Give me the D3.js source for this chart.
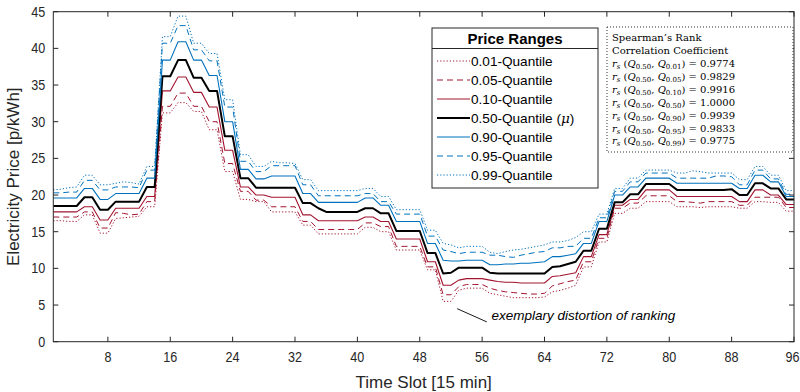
<!DOCTYPE html>
<html>
<head>
<meta charset="utf-8">
<script src="https://cdn.jsdelivr.net/npm/d3@7"></script>
<style>
  body { margin: 0; background: #fff; }
  svg { display: block; }
  .tick-label { font-family: "Liberation Sans", Arial, sans-serif; font-size: 15px; fill: #262626; }
  .axis-title { font-family: "Liberation Sans", Arial, sans-serif; font-size: 17px; fill: #262626; }
  .legend-text { font-family: "Liberation Sans", Arial, sans-serif; font-size: 13.6px; fill: #000; }
  .corr-text { font-family: "DejaVu Serif", "Liberation Serif", serif; font-size: 10px; fill: #000; }
</style>
</head>
<body>
<div id="chart"></div>
<script>
// quantile curves of the day-ahead price, one value per 15 min slot (1..96)
var q01 = [
  16.5, 16.5, 16.4, 16.4, 17.3, 17.3, 14.8, 14.8, 16.8, 16.9,
  17.0, 17.1, 18.4, 18.4, 31.2, 31.2, 32.6, 32.6, 31.4, 31.4,
  28.9, 28.9, 23.2, 23.2, 19.4, 19.4, 19.1, 19.1, 17.7, 17.7,
  17.7, 17.7, 15.9, 15.9, 14.7, 14.7, 14.7, 14.7, 14.7, 14.7,
  15.6, 15.6, 15.0, 15.0, 12.5, 12.5, 12.5, 12.5, 9.8, 9.8,
  5.5, 5.5, 7.0, 7.3, 7.3, 7.3, 6.6, 6.4, 6.2, 6.0,
  6.0, 6.0, 6.0, 6.1, 6.8, 7.0, 7.3, 7.7, 10.2, 10.2,
  13.6, 13.6, 17.5, 17.5, 18.2, 18.2, 19.1, 19.1, 19.1, 19.1,
  18.4, 18.4, 18.4, 18.3, 18.4, 18.4, 18.4, 18.4, 18.2, 18.2,
  19.1, 19.1, 19.0, 19.0, 17.8, 17.8
];
var q05 = [
  17.0, 17.0, 17.0, 17.0, 17.7, 17.7, 15.5, 15.5, 17.6, 17.5,
  17.3, 17.4, 19.1, 19.1, 32.1, 32.1, 33.9, 33.9, 32.1, 32.1,
  30.0, 30.0, 24.3, 24.3, 20.5, 20.5, 19.3, 19.3, 18.4, 18.4,
  18.4, 18.4, 16.4, 16.4, 15.3, 15.3, 15.3, 15.3, 15.3, 15.3,
  16.2, 16.2, 15.7, 15.7, 13.0, 13.0, 13.0, 13.0, 10.2, 10.2,
  6.4, 6.4, 7.5, 7.8, 7.8, 7.8, 7.3, 7.0, 6.8, 6.7,
  6.6, 6.5, 6.5, 6.6, 7.6, 7.9, 8.2, 8.4, 10.9, 10.9,
  14.1, 14.1, 18.2, 18.2, 18.9, 18.9, 19.9, 19.9, 19.9, 19.9,
  19.1, 19.1, 19.0, 18.9, 19.1, 19.1, 19.1, 19.1, 18.6, 18.6,
  19.7, 19.7, 19.7, 19.7, 18.3, 18.3
];
var q10 = [
  17.7, 17.7, 17.7, 17.7, 18.4, 18.4, 16.6, 16.6, 18.2, 18.2,
  18.2, 18.2, 19.8, 19.8, 34.2, 34.2, 36.1, 36.1, 34.0, 34.0,
  32.0, 32.0, 26.1, 26.1, 21.1, 21.1, 20.0, 20.0, 19.7, 19.7,
  19.7, 19.7, 17.3, 17.3, 16.5, 16.5, 16.5, 16.5, 16.5, 16.5,
  17.0, 17.0, 16.4, 16.4, 14.0, 14.0, 14.0, 14.0, 10.9, 10.9,
  7.7, 7.7, 8.4, 8.6, 8.6, 8.6, 8.4, 8.2, 8.1, 8.1,
  8.0, 8.0, 8.0, 8.0, 8.9, 9.0, 9.2, 9.4, 11.6, 11.6,
  14.6, 14.6, 18.6, 18.6, 19.4, 19.4, 20.7, 20.7, 20.7, 20.7,
  19.8, 19.8, 19.8, 19.8, 19.8, 19.8, 19.8, 19.8, 19.1, 19.1,
  20.7, 20.7, 20.0, 20.0, 18.7, 18.7
];
var q50 = [
  18.5, 18.5, 18.5, 18.5, 19.7, 19.7, 18.0, 18.0, 19.1, 19.1,
  19.1, 19.1, 21.1, 21.1, 36.2, 36.2, 38.4, 38.4, 36.0, 36.0,
  34.2, 34.2, 28.0, 28.0, 22.3, 22.3, 21.0, 21.0, 21.0, 21.0,
  21.0, 21.0, 18.9, 18.9, 18.2, 17.7, 17.7, 17.7, 17.7, 17.7,
  18.2, 18.2, 17.5, 17.5, 15.1, 15.1, 15.1, 15.1, 12.1, 12.1,
  9.3, 9.4, 10.1, 10.1, 10.1, 10.1, 9.4, 9.3, 9.3, 9.3,
  9.3, 9.3, 9.3, 9.3, 10.2, 10.3, 10.6, 10.9, 12.4, 12.4,
  15.4, 15.4, 19.0, 19.0, 20.1, 20.1, 21.5, 21.5, 21.5, 21.5,
  20.7, 20.7, 20.7, 20.7, 20.7, 20.7, 20.7, 20.8, 20.0, 20.0,
  21.6, 21.6, 20.9, 20.9, 19.4, 19.4
];
var q90 = [
  19.6, 19.6, 19.6, 19.6, 20.9, 20.9, 19.4, 19.4, 20.2, 20.2,
  20.2, 20.2, 22.3, 22.3, 38.4, 38.4, 40.9, 40.9, 38.4, 38.4,
  36.3, 36.3, 30.0, 30.0, 23.5, 23.5, 22.2, 22.2, 22.6, 22.6,
  22.6, 22.6, 20.2, 20.2, 19.0, 19.0, 19.0, 19.0, 19.0, 19.0,
  19.6, 19.6, 18.6, 18.6, 16.4, 16.4, 16.4, 16.4, 13.4, 13.4,
  11.1, 11.0, 11.0, 11.1, 11.1, 11.1, 10.5, 10.5, 10.6, 10.6,
  10.7, 10.7, 10.8, 10.9, 11.6, 11.6, 11.8, 12.0, 13.4, 13.4,
  16.4, 16.4, 20.0, 20.0, 21.1, 21.1, 22.3, 22.3, 22.3, 22.3,
  21.6, 21.6, 21.6, 21.6, 21.6, 21.6, 21.6, 21.6, 20.9, 20.9,
  22.7, 22.7, 21.8, 21.8, 19.8, 19.8
];
var q95 = [
  20.3, 20.3, 20.4, 20.4, 22.0, 22.0, 20.7, 20.7, 21.1, 21.1,
  21.1, 21.0, 23.4, 23.4, 40.7, 40.7, 43.1, 43.1, 39.8, 39.8,
  38.3, 38.3, 32.0, 32.0, 24.6, 24.6, 23.2, 23.2, 24.0, 24.0,
  24.0, 24.0, 21.4, 21.4, 19.9, 19.9, 19.9, 19.9, 19.9, 19.9,
  20.2, 20.2, 19.1, 19.1, 17.4, 17.4, 17.4, 17.4, 14.4, 14.4,
  12.5, 12.3, 12.0, 12.2, 12.2, 12.2, 11.8, 11.8, 11.6, 11.5,
  11.8, 12.0, 12.2, 12.3, 12.8, 12.8, 13.0, 13.0, 14.1, 14.1,
  16.9, 16.9, 20.5, 20.5, 21.8, 21.8, 23.0, 23.0, 23.0, 23.0,
  22.3, 22.3, 22.3, 22.3, 22.3, 22.6, 22.6, 22.5, 21.4, 21.4,
  23.4, 23.4, 22.2, 22.2, 20.1, 20.1
];
var q99 = [
  20.7, 20.8, 21.0, 21.1, 22.7, 22.7, 21.4, 21.4, 21.6, 21.8,
  21.7, 21.5, 23.9, 23.9, 41.6, 41.6, 44.4, 44.4, 40.7, 40.7,
  39.3, 39.3, 33.0, 33.0, 25.5, 25.5, 23.9, 23.9, 24.6, 24.4,
  24.4, 24.3, 22.1, 22.1, 20.6, 20.6, 20.6, 20.6, 20.6, 20.6,
  20.9, 20.9, 19.8, 19.8, 18.0, 18.0, 18.0, 18.0, 15.2, 15.2,
  13.4, 13.2, 12.8, 13.0, 13.0, 13.0, 12.2, 12.0, 12.3, 12.5,
  12.6, 12.8, 13.0, 13.2, 13.6, 13.6, 13.8, 14.2, 15.0, 15.0,
  17.4, 17.4, 20.9, 20.9, 22.3, 22.3, 23.4, 23.4, 23.4, 23.4,
  23.0, 23.0, 23.3, 23.2, 23.0, 23.0, 23.0, 23.0, 22.1, 22.1,
  23.9, 23.9, 22.7, 22.7, 20.6, 20.6
];

var legendLabels = ['0.01-Quantile', '0.05-Quantile', '0.10-Quantile', '0.50-Quantile',
  '0.90-Quantile', '0.95-Quantile', '0.99-Quantile'];
var xTicks = [8, 16, 24, 32, 40, 48, 56, 64, 72, 80, 88, 96];
var yTicks = [0, 5, 10, 15, 20, 25, 30, 35, 40, 45];

// Spearman rank correlation of each quantile with the median
var corrQuantiles = ['0.01', '0.05', '0.10', '0.50', '0.90', '0.95', '0.99'];
var corrValues = ['0.9774', '0.9829', '0.9916', '1.0000', '0.9939', '0.9833', '0.9775'];

var red = '#A2142F';
var blue = '#0072BD';
var series = [
  {label: legendLabels[0], values: q01, color: red, dash: '1.2,2', width: 1},
  {label: legendLabels[1], values: q05, color: red, dash: '6,4', width: 1},
  {label: legendLabels[2], values: q10, color: red, dash: null, width: 1.1},
  {label: legendLabels[3], values: q50, color: '#000', dash: null, width: 2},
  {label: legendLabels[4], values: q90, color: blue, dash: null, width: 1.1},
  {label: legendLabels[5], values: q95, color: blue, dash: '6,4', width: 1},
  {label: legendLabels[6], values: q99, color: blue, dash: '1.2,2', width: 1}
];

var W = 800, H = 392;
var margin = {top: 11.7, right: 6, bottom: 50.3, left: 53.3};
var width = W - margin.left - margin.right;
var height = H - margin.top - margin.bottom;

var svg = d3.select('#chart').append('svg')
  .attr('width', W)
  .attr('height', H);

var g = svg.append('g')
  .attr('transform', 'translate(' + margin.left + ',' + margin.top + ')');

var x = d3.scaleLinear().domain([1, 96]).range([0, width]);
var y = d3.scaleLinear().domain([0, 45]).range([height, 0]);

g.append('clipPath').attr('id', 'plot-clip')
  .append('rect').attr('width', width).attr('height', height);

// curves
var line = d3.line()
  .x(function(d, i) { return x(i + 1); })
  .y(function(d) { return y(d); });

g.append('g').attr('clip-path', 'url(#plot-clip)')
  .selectAll('.q-line')
  .data(series)
  .enter()
  .append('path')
  .attr('class', 'q-line')
  .attr('d', function(d) { return line(d.values); })
  .attr('fill', 'none')
  .attr('stroke', function(d) { return d.color; })
  .attr('stroke-width', function(d) { return d.width; })
  .attr('stroke-dasharray', function(d) { return d.dash; })
  .attr('stroke-linejoin', 'round');

// axes box, ticks pointing inwards on all four sides
var axisColor = '#262626';
var tickLen = 5;
var squeeze = 0.84; // tick labels are a bit condensed in the original

var xAxis = g.append('g');
xAxis.selectAll('.xt-b')
  .data(xTicks).enter().append('line')
  .attr('x1', function(d) { return x(d); }).attr('x2', function(d) { return x(d); })
  .attr('y1', height).attr('y2', height - tickLen)
  .attr('stroke', axisColor);
xAxis.selectAll('.xt-t')
  .data(xTicks).enter().append('line')
  .attr('x1', function(d) { return x(d); }).attr('x2', function(d) { return x(d); })
  .attr('y1', 0).attr('y2', tickLen)
  .attr('stroke', axisColor);
xAxis.selectAll('.x-label')
  .data(xTicks).enter().append('text')
  .attr('class', 'tick-label')
  .attr('transform', function(d) {
    var px = Math.min(x(d), W - margin.left - 7.5);
    return 'translate(' + px + ',' + (height + 20) + ') scale(' + squeeze + ',1)';
  })
  .attr('text-anchor', 'middle')
  .text(function(d) { return d; });

var yAxis = g.append('g');
yAxis.selectAll('.yt-l')
  .data(yTicks).enter().append('line')
  .attr('x1', 0).attr('x2', tickLen)
  .attr('y1', function(d) { return y(d); }).attr('y2', function(d) { return y(d); })
  .attr('stroke', axisColor);
yAxis.selectAll('.yt-r')
  .data(yTicks).enter().append('line')
  .attr('x1', width).attr('x2', width - tickLen)
  .attr('y1', function(d) { return y(d); }).attr('y2', function(d) { return y(d); })
  .attr('stroke', axisColor);
yAxis.selectAll('.y-label')
  .data(yTicks).enter().append('text')
  .attr('class', 'tick-label')
  .attr('transform', function(d) {
    return 'translate(-8,' + (y(d) + 5) + ') scale(' + squeeze + ',1)';
  })
  .attr('text-anchor', 'end')
  .text(function(d) { return d; });

g.append('rect')
  .attr('width', width).attr('height', height)
  .attr('fill', 'none')
  .attr('stroke', axisColor)
  .attr('stroke-width', 1);

svg.append('text')
  .attr('class', 'axis-title')
  .attr('x', margin.left + width / 2)
  .attr('y', 388)
  .attr('text-anchor', 'middle')
  .text('Time Slot [15 min]');

svg.append('text')
  .attr('class', 'axis-title')
  .attr('transform', 'translate(19,' + (margin.top + height / 2) + ') rotate(-90)')
  .attr('text-anchor', 'middle')
  .text('Electricity Price [p/kWh]');

// annotation of the ranking distortion
var ann = g.append('g');
ann.append('line')
  .attr('x1', x(52.8)).attr('y1', y(4.5))
  .attr('x2', x(56.6)).attr('y2', y(2.7))
  .attr('stroke', '#000').attr('stroke-width', 0.9);
ann.append('text')
  .attr('x', x(57.2))
  .attr('y', y(2.9))
  .style('font-family', '"Liberation Sans", Arial, sans-serif')
  .style('font-size', '13.5px')
  .style('font-style', 'italic')
  .attr('fill', '#000')
  .text('exemplary distortion of ranking');

// legend
var lg = svg.append('g').attr('transform', 'translate(432,28)');
lg.append('rect')
  .attr('width', 166).attr('height', 160)
  .attr('fill', '#fff')
  .attr('stroke', axisColor);
lg.append('line')
  .attr('x1', 0).attr('x2', 166)
  .attr('y1', 20.5).attr('y2', 20.5)
  .attr('stroke', axisColor);
lg.append('text')
  .attr('class', 'legend-text')
  .attr('x', 83).attr('y', 15.5)
  .attr('text-anchor', 'middle')
  .style('font-weight', 'bold')
  .style('font-size', '15px')
  .text('Price Ranges');

var items = lg.selectAll('.legend-item')
  .data(series).enter().append('g')
  .attr('class', 'legend-item')
  .attr('transform', function(d, i) { return 'translate(0,' + (33 + i * 19) + ')'; });
items.append('line')
  .attr('x1', 5).attr('x2', 38)
  .attr('stroke', function(d) { return d.color; })
  .attr('stroke-width', function(d) { return d.width; })
  .attr('stroke-dasharray', function(d) { return d.dash; });
items.append('text')
  .attr('class', 'legend-text')
  .attr('x', 39).attr('y', 5)
  .text(function(d) { return d.label; })
  .filter(function(d, i) { return i === 3; })
  .append('tspan')
  .text(' (')
  .append('tspan')
  .style('font-family', '"DejaVu Serif", serif')
  .style('font-style', 'italic')
  .text('\u03bc')
  .select(function() { return this.parentNode; })
  .append('tspan')
  .text(')');

// Spearman box
var cb = svg.append('g').attr('transform', 'translate(607,27)');
cb.append('rect')
  .attr('width', 186).attr('height', 125)
  .attr('fill', '#fff')
  .attr('stroke', '#333')
  .attr('stroke-width', 1)
  .attr('stroke-dasharray', '1,2');
cb.append('text').attr('class', 'corr-text').attr('x', 5).attr('y', 14).text('Spearman\u2019s Rank');
cb.append('text').attr('class', 'corr-text').attr('x', 5).attr('y', 27).text('Correlation Coefficient');

var rows = cb.selectAll('.corr-row')
  .data(corrValues).enter().append('text')
  .attr('class', 'corr-text')
  .attr('x', 5)
  .attr('y', function(d, i) { return 40 + i * 12.9; });
rows.append('tspan').style('font-style', 'italic').text('r');
rows.append('tspan').attr('dy', 2).style('font-size', '7px').style('font-style', 'italic').text('s');
rows.append('tspan').attr('dy', -2).text(' (');
rows.append('tspan').style('font-style', 'italic').text('Q');
rows.append('tspan').attr('dy', 2).style('font-size', '7px').text('0.50');
rows.append('tspan').attr('dy', -2).text(', ');
rows.append('tspan').style('font-style', 'italic').text('Q');
rows.append('tspan').attr('dy', 2).style('font-size', '7px')
  .text(function(d, i) { return corrQuantiles[i]; });
rows.append('tspan').attr('dy', -2)
  .text(function(d) { return ') = ' + d; });
</script>
</body>
</html>
